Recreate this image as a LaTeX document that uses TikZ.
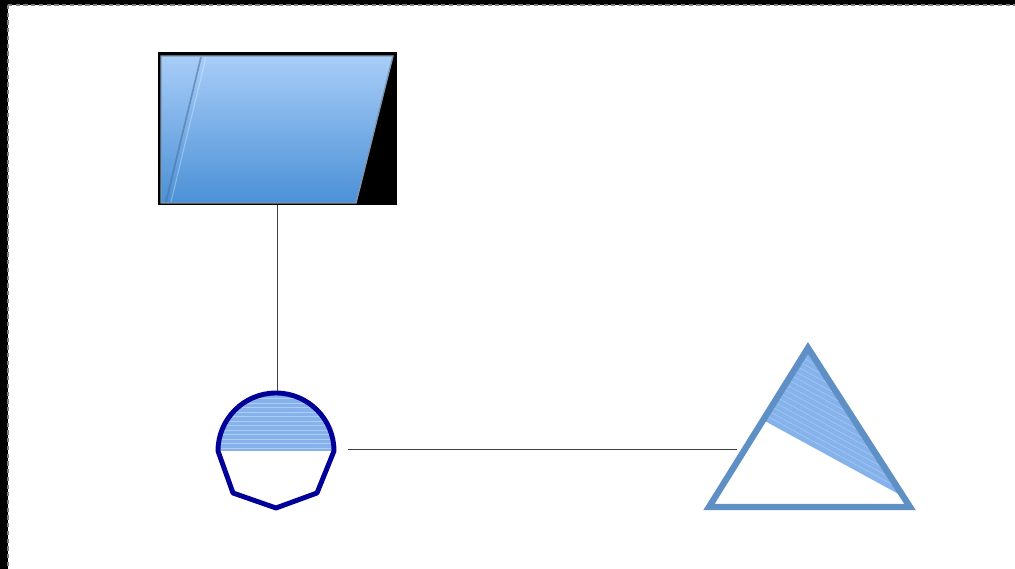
\documentclass[tikz,border=0pt]{standalone}
\usetikzlibrary{positioning}
\definecolor{navy}{HTML}{000099}
\definecolor{steel}{HTML}{5E90C5}
\definecolor{skytop}{HTML}{A8CDF8}
\definecolor{skybot}{HTML}{4B90D6}
\definecolor{halfblue}{HTML}{86B2EC}
\definecolor{edgegray}{HTML}{7D97B0}

\begin{document}
\begin{tikzpicture}[x=0.025cm, y=-0.025cm,
  box/.style={inner sep=0pt, outer sep=0pt},
  conn/.style={draw=black!75, line width=0.5pt},
  strp/.style={white, opacity=0.35, line width=0.3pt}]
\useasboundingbox (0,0) rectangle (1015,569);
% frame of the canvas
\fill[black] (0,0) rectangle (1015,5);
\fill[black] (0,0) rectangle (8,569);
\draw[gray, line width=0.8pt, dash pattern=on 3pt off 2.5pt] (8,5) -- (1015,5);
\draw[gray, line width=0.8pt, dash pattern=on 3pt off 2.5pt] (8,5) -- (8,569);

\node[box, fill=black, minimum width=5.975cm, minimum height=3.825cm] (disp) at (277.5,128.5) {};
\node[box, minimum width=3.6cm, minimum height=2.9cm] (merge) at (276,449) {};
\node[box, minimum width=3.65cm, minimum height=4cm] (tri) at (810,449) {};

% display shape
\shade[top color=skytop, bottom color=skybot] (161,56) -- (393,56) -- (356,203) -- (161,203) -- cycle;
\draw[edgegray, line width=1pt] (161,56) -- (393,56) -- (356,203) -- (161,203) -- cycle;
\draw[steel!80!black, opacity=0.6, line width=1.2pt] (201,57) -- (166,202);
\draw[white, opacity=0.3, line width=0.8pt] (206,57) -- (171,202);

% merge shape
\begin{scope}
\clip (218,451) arc (180:360:58) -- cycle;
\fill[halfblue] (210,390) rectangle (340,452);
\foreach \k in {0,...,12} \draw[strp] (210,448-4.5*\k) -- (340,448-4.5*\k);
\end{scope}
\draw[navy, line width=3.5pt, line join=round] (218,451) arc (180:360:58) -- (317,493) -- (276,508) -- (233,493) -- cycle;

% triangle shape
\begin{scope}
\clip (808,348) -- (763,420) -- (904,497) -- cycle;
\fill[halfblue] (700,340) rectangle (920,510);
\foreach \k in {1,...,14} \draw[strp] (700,385.6-6*\k) -- (920,505.7-6*\k);
\end{scope}
\draw[steel, line width=4.5pt] (808,348) -- (910,507) -- (709,507) -- cycle;

\draw[conn] (disp.south) -- (disp.south |- merge.north);
\draw[conn] (merge.east) -- (tri.west);
\end{tikzpicture}
\end{document}
